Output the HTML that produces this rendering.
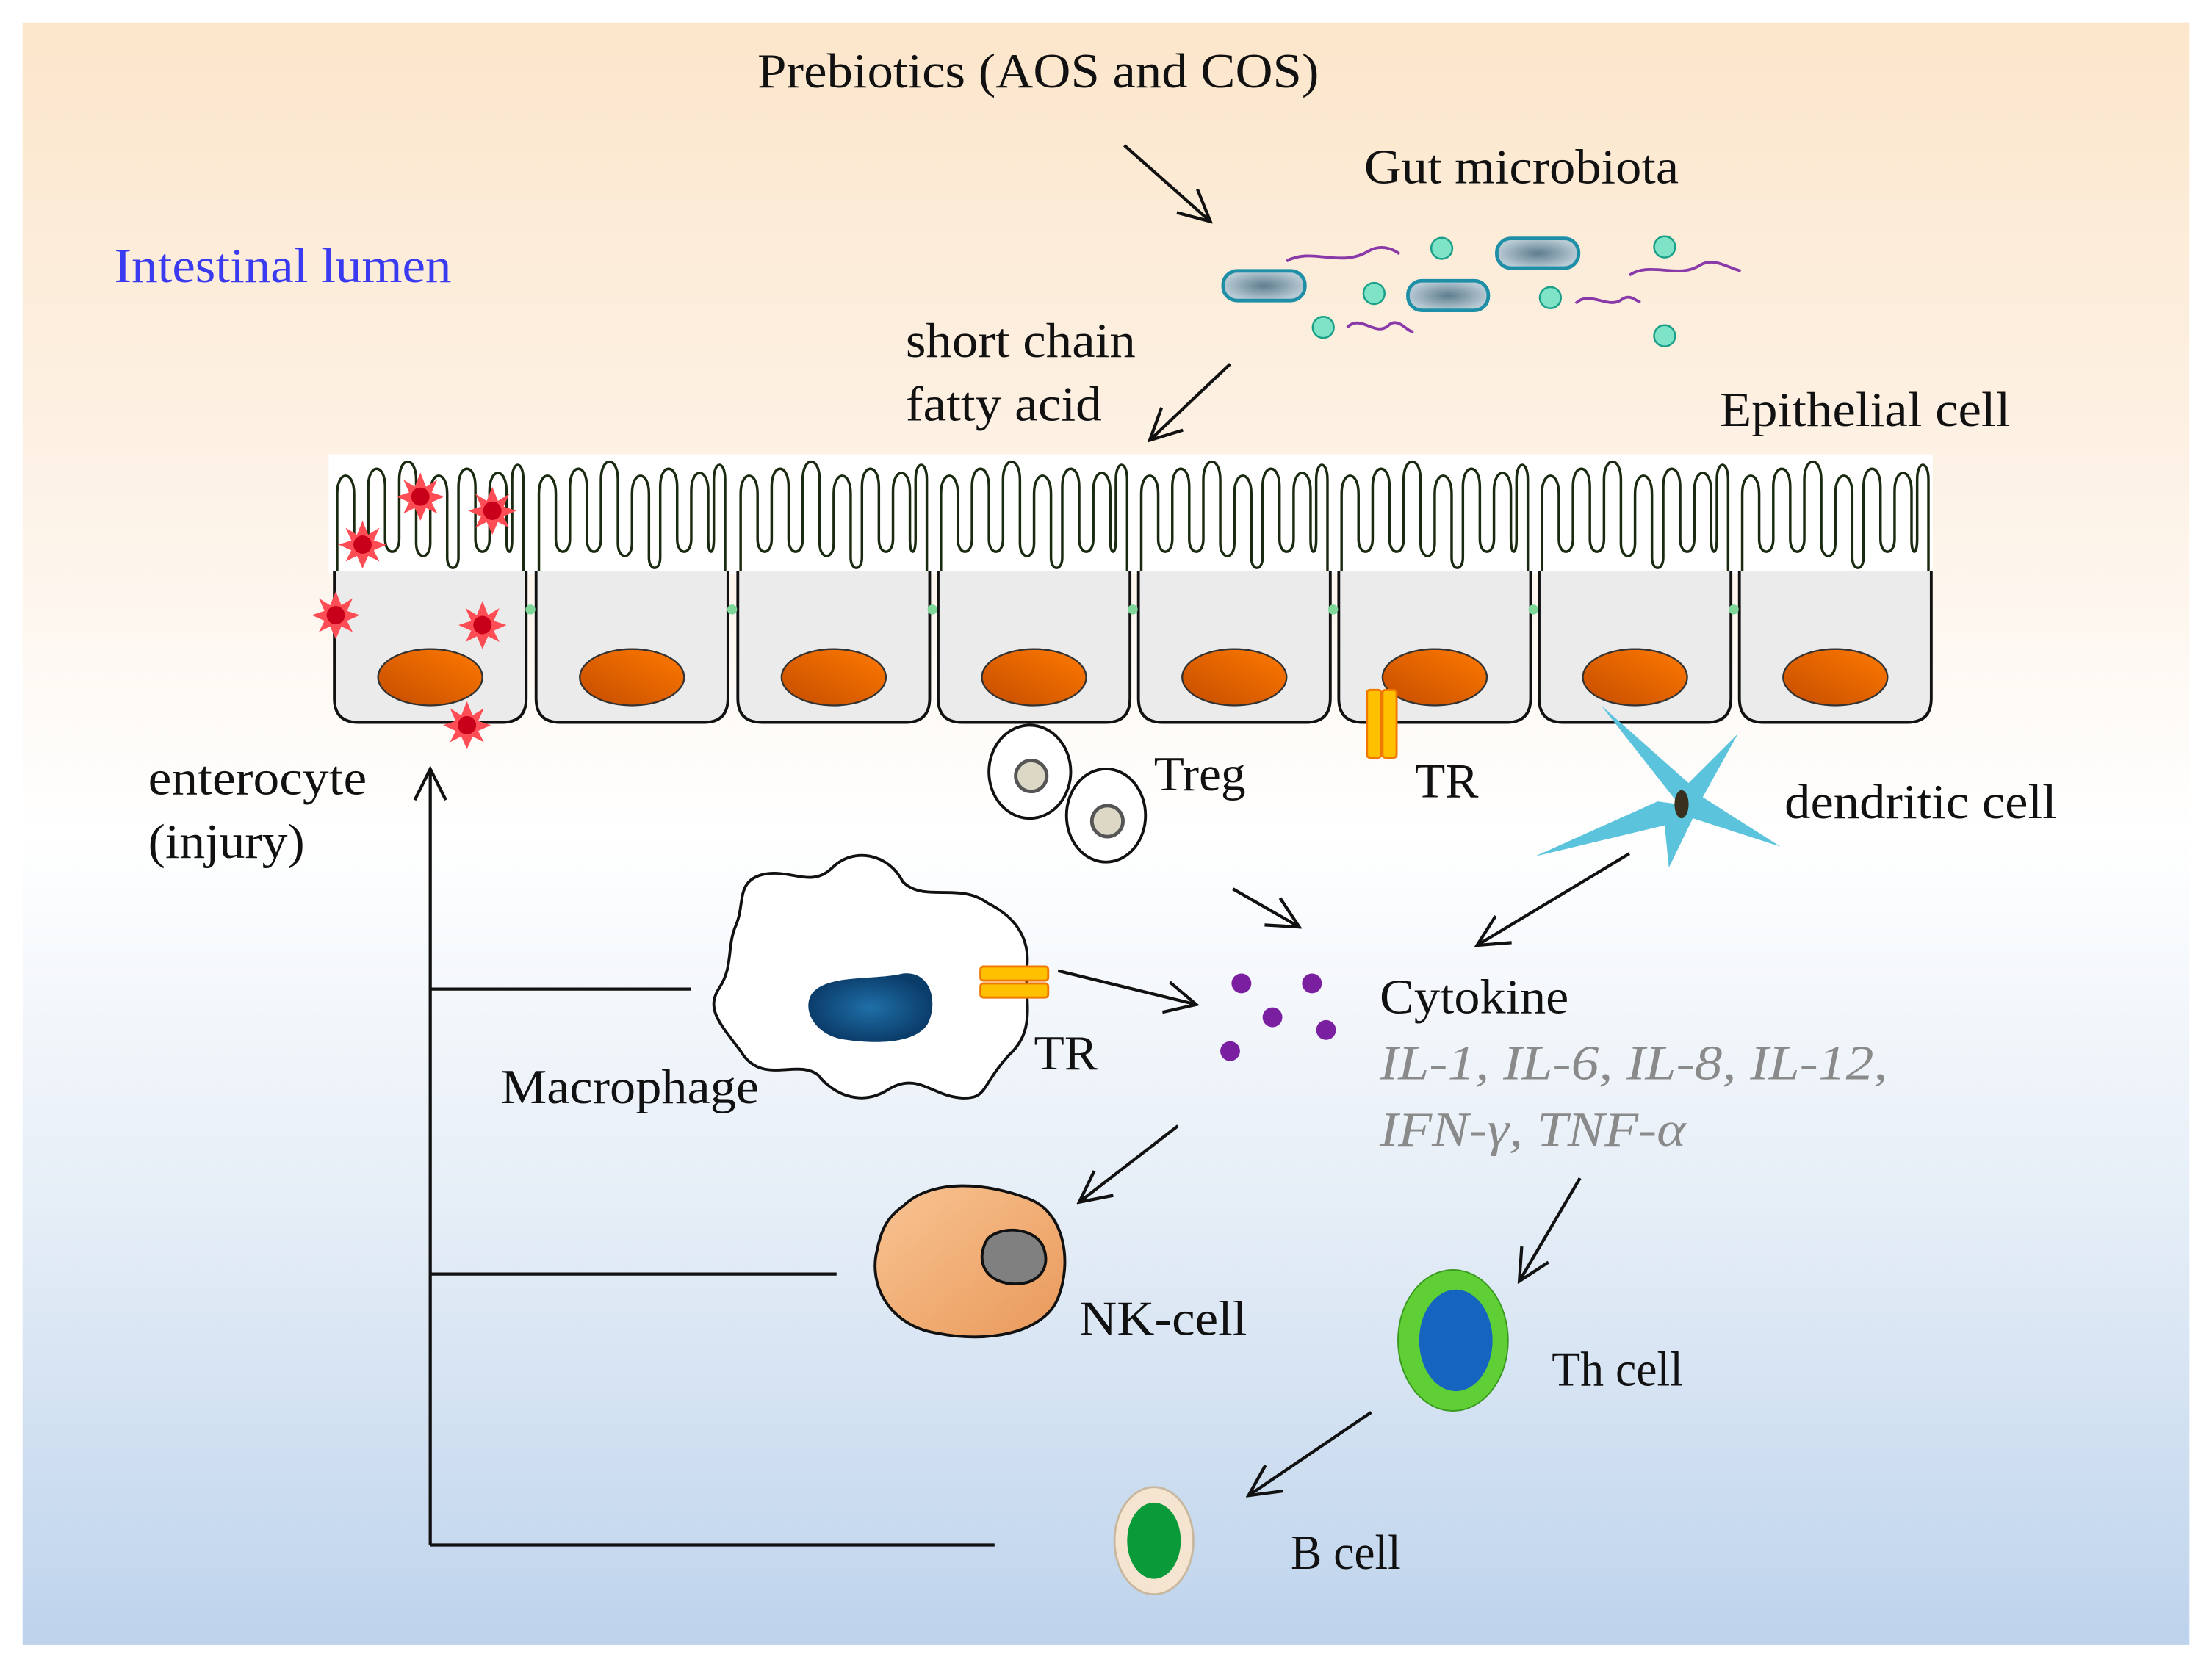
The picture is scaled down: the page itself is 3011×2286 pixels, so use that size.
<!DOCTYPE html>
<html><head><meta charset="utf-8"><style>html,body{margin:0;padding:0;background:#fff}svg{display:block}text{font-family:"Liberation Serif",serif;font-size:35px;fill:#111}</style></head>
<body>
<svg width="3011" height="2286" viewBox="0 0 1568 1190" preserveAspectRatio="none" xmlns="http://www.w3.org/2000/svg">
<defs>
<linearGradient id="bg" x1="0" y1="0" x2="0" y2="1">
<stop offset="0" stop-color="#fce6cb"/><stop offset="0.3" stop-color="#fdf3e8"/><stop offset="0.5" stop-color="#ffffff"/><stop offset="0.75" stop-color="#e3ecf6"/><stop offset="1" stop-color="#bdd3ec"/></linearGradient>
<linearGradient id="nuc" x1="1" y1="0" x2="0" y2="1"><stop offset="0" stop-color="#ff7a00"/><stop offset="1" stop-color="#c44c00"/></linearGradient>
<linearGradient id="nk" x1="0" y1="0" x2="1" y2="1"><stop offset="0" stop-color="#f9c493"/><stop offset="1" stop-color="#e9995a"/></linearGradient>
<radialGradient id="cap"><stop offset="0" stop-color="#5e7d8e"/><stop offset="1" stop-color="#b8cad4"/></radialGradient>
<radialGradient id="mn"><stop offset="0" stop-color="#1f6fa8"/><stop offset="1" stop-color="#0b3d6b"/></radialGradient>
<marker id="ah2" markerWidth="26" markerHeight="26" refX="24" refY="13" orient="auto" markerUnits="userSpaceOnUse" viewBox="0 0 26 26"><path d="M2,2 L24,13 L2,24" fill="none" stroke="#111" stroke-width="2.2"/></marker>
<g id="cell">
<path d="M0,405 H136 V495 Q136,512 119,512 H17 Q0,512 0,495 Z" fill="#ebebeb"/>
<path d="M0,405 V495 Q0,512 17,512 H119 Q136,512 136,495 V405" fill="none" stroke="#111" stroke-width="2"/>
<path d="M2,405 V350 C2,333 14,333 14,350 V382 C14,394 24,394 24,382 V345 C24,328 36,328 36,345 V382 C36,394 46,394 46,382 V340 C46,323 58,323 58,340 V385 C58,397 68,397 68,385 V350 C68,333 80,333 80,350 V395 C80,405 88,405 88,395 V345 C88,328 100,328 100,345 V382 C100,394 110,394 110,382 V348 C110,331 122,331 122,348 V382 C122,394 126,394 126,382 V340 C126,326 134,326 134,340 V405" fill="none" stroke="#1a2a10" stroke-width="1.8"/>
<ellipse cx="68" cy="480" rx="37" ry="20" fill="url(#nuc)" stroke="#333" stroke-width="1.2"/>
</g>
<g id="star"><polygon points="0,-17 4,-7 12,-12 8,-3 17,0 8,4 12,12 4,8 0,17 -4,8 -12,12 -8,4 -17,0 -8,-3 -12,-12 -4,-7" fill="#ff4d55"/><circle r="6.5" fill="#c8001a"/></g>
</defs>
<rect width="1568" height="1190" fill="#fff"/>
<rect x="16" y="16" width="1536" height="1150" fill="url(#bg)"/>
<rect x="233" y="322" width="1137" height="85" fill="#fff"/>
<use href="#cell" x="237"/><use href="#cell" x="380"/><use href="#cell" x="523"/><use href="#cell" x="665"/>
<use href="#cell" x="807"/><use href="#cell" x="949"/><use href="#cell" x="1091"/><use href="#cell" x="1233"/>
<g fill="#7fd89a"><circle cx="376" cy="432" r="3.5"/><circle cx="519" cy="432" r="3.5"/><circle cx="661" cy="432" r="3.5"/><circle cx="803" cy="432" r="3.5"/><circle cx="945" cy="432" r="3.5"/><circle cx="1087" cy="432" r="3.5"/><circle cx="1229" cy="432" r="3.5"/></g>
<use href="#star" x="298" y="352"/><use href="#star" x="349" y="362"/><use href="#star" x="257" y="386"/><use href="#star" x="238" y="436"/><use href="#star" x="342" y="443"/><use href="#star" x="331" y="514"/>

<g lengthAdjust="spacingAndGlyphs">
<text x="537" y="62" textLength="398" lengthAdjust="spacingAndGlyphs">Prebiotics (AOS and COS)</text>
<text x="967" y="130" textLength="223" lengthAdjust="spacingAndGlyphs">Gut microbiota</text>
<text x="81" y="200" textLength="239" lengthAdjust="spacingAndGlyphs" style="fill:#3a3af0">Intestinal lumen</text>
<text x="642" y="253" textLength="163" lengthAdjust="spacingAndGlyphs">short chain</text>
<text x="642" y="298" textLength="139" lengthAdjust="spacingAndGlyphs">fatty acid</text>
<text x="1219" y="302" textLength="206" lengthAdjust="spacingAndGlyphs">Epithelial cell</text>
<text x="105" y="563" textLength="155" lengthAdjust="spacingAndGlyphs">enterocyte</text>
<text x="105" y="608" textLength="111" lengthAdjust="spacingAndGlyphs">(injury)</text>
<text x="818" y="560" textLength="65" lengthAdjust="spacingAndGlyphs">Treg</text>
<text x="1003" y="565" textLength="45" lengthAdjust="spacingAndGlyphs">TR</text>
<text x="1265" y="580" textLength="193" lengthAdjust="spacingAndGlyphs">dendritic cell</text>
<text x="978" y="718" textLength="134" lengthAdjust="spacingAndGlyphs">Cytokine</text>
<text x="978" y="765" textLength="360" lengthAdjust="spacingAndGlyphs" style="fill:#8a8a8a;font-style:italic">IL-1, IL-6, IL-8, IL-12,</text>
<text x="978" y="812" textLength="217" lengthAdjust="spacingAndGlyphs" style="fill:#8a8a8a;font-style:italic">IFN-γ, TNF-α</text>
<text x="355" y="782" textLength="183" lengthAdjust="spacingAndGlyphs">Macrophage</text>
<text x="733" y="758" textLength="45" lengthAdjust="spacingAndGlyphs">TR</text>
<text x="765" y="946" textLength="119" lengthAdjust="spacingAndGlyphs">NK-cell</text>
<text x="1100" y="982" textLength="93" lengthAdjust="spacingAndGlyphs">Th cell</text>
<text x="915" y="1112" textLength="78" lengthAdjust="spacingAndGlyphs">B cell</text>
</g>

<g stroke="#8a3aa8" stroke-width="2" fill="none">
<path d="M912,185 C930,175 950,190 970,178 C980,172 990,178 992,180"/>
<path d="M955,232 C965,222 975,240 985,230 C992,225 998,236 1002,235"/>
<path d="M1117,215 C1127,205 1140,220 1150,212 C1156,208 1160,214 1163,214"/>
<path d="M1155,195 C1170,185 1190,198 1205,188 C1215,182 1225,190 1234,192"/>
</g>
<g stroke="#1f8fa8" stroke-width="2.5" fill="url(#cap)">
<rect x="867" y="192" width="58" height="21" rx="10"/><rect x="998" y="199" width="57" height="21" rx="10"/><rect x="1061" y="169" width="58" height="21" rx="10"/></g>
<g fill="#7fe3c8" stroke="#1aa088" stroke-width="1.3">
<circle cx="1022" cy="176" r="7.5"/><circle cx="974" cy="208" r="7.5"/><circle cx="1099" cy="211" r="7.5"/><circle cx="938" cy="232" r="7.5"/><circle cx="1180" cy="175" r="7.5"/><circle cx="1180" cy="238" r="7.5"/></g>

<g stroke="#111" stroke-width="2.2" fill="none" marker-end="url(#ah2)">
<line x1="797" y1="103" x2="858" y2="157"/><line x1="872" y1="258" x2="815" y2="312"/>
<line x1="874" y1="630" x2="921" y2="657"/><line x1="1155" y1="605" x2="1047" y2="670"/>
<line x1="750" y1="688" x2="848" y2="712"/><line x1="835" y1="798" x2="765" y2="852"/>
<line x1="1120" y1="835" x2="1077" y2="908"/><line x1="972" y1="1001" x2="885" y2="1060"/>
<line x1="305" y1="1095" x2="305" y2="545"/>
</g>
<g stroke="#111" stroke-width="2.2"><line x1="305" y1="701" x2="490" y2="701"/><line x1="305" y1="903" x2="593" y2="903"/><line x1="305" y1="1095" x2="705" y2="1095"/></g>

<g stroke="#111" stroke-width="2" fill="#fff"><ellipse cx="730" cy="547" rx="29" ry="33"/><ellipse cx="784" cy="578" rx="28" ry="33"/></g>
<g stroke="#555" stroke-width="2.5" fill="#ddd8c6"><circle cx="731" cy="550" r="11"/><circle cx="785" cy="582" r="11"/></g>
<g fill="#ffc000" stroke="#f07800" stroke-width="1.5"><rect x="969" y="489" width="10" height="48" rx="2"/><rect x="980" y="489" width="10" height="48" rx="2"/></g>
<path d="M1190,570 L1135,500 L1197,555 L1232,520 L1207,565 L1262,600 L1200,580 L1183,615 L1180,585 L1088,607 L1175,568 Z" fill="#5cc3dc"/>
<ellipse cx="1192" cy="570" rx="5" ry="10" fill="#3a3020"/>
<path d="M540,620 C560,615 575,630 590,615 C605,600 630,605 640,625 C655,640 680,625 700,640 C720,650 730,665 728,685 C726,710 735,730 715,748 C695,770 700,780 680,778 C660,776 650,760 630,772 C610,785 590,775 580,762 C565,750 540,770 525,745 C510,725 500,715 510,700 C520,685 515,670 522,655 C528,640 522,625 540,620 Z" fill="#fff" stroke="#111" stroke-width="2"/>
<path d="M575,705 C585,690 620,695 640,690 C660,688 665,710 658,725 C650,740 620,740 600,737 C580,735 568,718 575,705 Z" fill="url(#mn)"/>
<g fill="#ffc000" stroke="#f07800" stroke-width="1.5"><rect x="695" y="685" width="48" height="10" rx="2"/><rect x="695" y="697" width="48" height="10" rx="2"/></g>
<g fill="#7a1fa0"><circle cx="880" cy="697" r="7"/><circle cx="930" cy="697" r="7"/><circle cx="902" cy="721" r="7"/><circle cx="940" cy="730" r="7"/><circle cx="872" cy="745" r="7"/></g>
<path d="M640,855 C660,835 700,838 730,850 C755,860 760,895 750,920 C740,945 700,952 665,945 C630,940 615,910 622,885 C625,870 630,862 640,855 Z" fill="url(#nk)" stroke="#111" stroke-width="2"/>
<path d="M700,878 C710,868 735,870 740,885 C745,900 735,910 720,910 C700,910 690,895 700,878 Z" fill="#808080" stroke="#111" stroke-width="2"/>
<ellipse cx="1030" cy="950" rx="39" ry="50" fill="#5fcf35" stroke="#3a9a20" stroke-width="1"/>
<ellipse cx="1032" cy="950" rx="26" ry="36" fill="#1565c0"/>
<ellipse cx="818" cy="1092" rx="28" ry="38" fill="#f5e4cf" stroke="#c8b8a0" stroke-width="1.5"/>
<ellipse cx="818" cy="1092" rx="19" ry="27" fill="#0a9a3a"/>
</svg>
</body></html>
